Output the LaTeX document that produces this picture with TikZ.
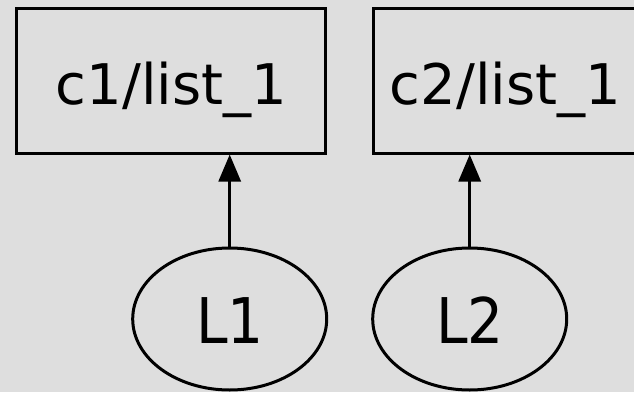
\documentclass[tikz,border=0pt]{standalone}
\usepackage{fontspec}
\setmainfont{DejaVu Sans}
\newfontfamily\lfont[FakeStretch=0.9]{DejaVu Sans}
\usetikzlibrary{arrows.meta,calc,shapes.geometric}
\definecolor{bg}{RGB}{222,222,222}
\tikzset{
  boxst/.style={draw=black, line width=3pt, rectangle, inner sep=0pt},
  ellst/.style={draw=black, line width=3pt, ellipse, inner sep=0pt, minimum width=194pt, minimum height=142pt},
  boxtxt/.style={anchor=base, inner sep=0pt, font=\fontsize{56}{60}\selectfont},
  elltxt/.style={anchor=base, inner sep=0pt, font=\lfont\fontsize{63}{70}\selectfont},
  conn/.style={line width=3pt, -{Triangle[length=27pt, width=22pt]}}
}
\begin{document}
\begin{tikzpicture}[x=1pt,y=1pt]
\fill[bg] (0,0) rectangle (634,392);
\useasboundingbox (0,0) rectangle (634,392);
\clip (0,0) rectangle (634,392);
\node[boxst, minimum width=309pt, minimum height=144pt] (c1) at (170.5,311) {};
\node[boxst, minimum width=268pt, minimum height=144pt] (c2) at (507,311) {};
\node[boxtxt] (t1) at (171.3,288) {c1/list\_1};
\node[boxtxt] (t2) at (505.5,288) {c2/list\_1};
\node[ellst] (L1) at (229.7,73) {};
\node[ellst] (L2) at (469.7,73) {};
\node[elltxt] (l1) at (230,48.7) {L1};
\node[elltxt] (l2) at (470,48.7) {L2};
\draw[conn] (L1.north) -- (L1.north |- c1.south);
\draw[conn] (L2.north) -- (L2.north |- c2.south);
\end{tikzpicture}
\end{document}
